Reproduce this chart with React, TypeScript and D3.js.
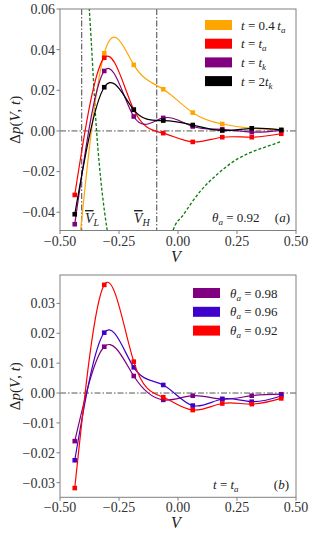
import React from 'react';
import * as d3 from 'd3';

// grid of V values shared by all series
const vGrid = [-0.4375, -0.3125, -0.1875, -0.0625, 0.0625, 0.1875, 0.3125, 0.4375];

// panel (a): theta_a = 0.92
const pOrange = [-0.078, 0.0382, 0.0325, 0.0205, 0.009, 0.0034, 0.0013, 0.0005];
const pRed = [-0.0315, 0.036, 0.0105, -0.0011, -0.0054, -0.0031, -0.0031, -0.0014];
const pPurple = [-0.0459, 0.0295, 0.0071, 0.0064, 0.0022, 0.0008, -0.0006, 0.0003];
const pBlack = [-0.041, 0.0215, 0.0104, 0.0051, 0.0029, 0.0002, 0.0013, 0.0005];

// green dashed reference curve, two branches
const greenLeft: [number, number][] = [[-0.392, 0.085], [-0.376, 0.06], [-0.345, 0], [-0.3, -0.049], [-0.29, -0.056]];
const greenRight: [number, number][] = [[-0.035, -0.056], [-0.02, -0.0487], [0.0225, -0.0413], [0.093, -0.0299], [0.164, -0.0216], [0.234, -0.0151], [0.305, -0.0107], [0.376, -0.0077], [0.436, -0.0053]];

const vL = -0.408;
const vH = -0.09;

// panel (b): t = t_a
const q98 = [-0.0161, 0.0155, 0.0057, -0.0023, -0.0009, -0.002, -0.0009, -0.0004];
const q96 = [-0.0225, 0.0202, 0.0086, 0.0027, -0.0042, -0.002, -0.0029, -0.001];
const q92 = [-0.0318, 0.0362, 0.0105, -0.0014, -0.0057, -0.0035, -0.0037, -0.0018];

const xTicks = [-0.5, -0.25, 0, 0.25, 0.5];
const yTicksA = [-0.04, -0.02, 0, 0.02, 0.04, 0.06];
const yTicksB = [-0.03, -0.02, -0.01, 0, 0.01, 0.02, 0.03];

const topSeries = [
  { key: 'o', vals: pOrange, color: '#ffa500', pre: '0.4', sub: 'a' },
  { key: 'r', vals: pRed, color: '#ff0000', pre: '', sub: 'a' },
  { key: 'p', vals: pPurple, color: '#800080', pre: '', sub: 'k' },
  { key: 'k', vals: pBlack, color: '#000000', pre: '2', sub: 'k' },
];
const botSeries = [
  { key: 'a', vals: q98, color: '#800080', label: '0.98' },
  { key: 'b', vals: q96, color: '#4000cc', label: '0.96' },
  { key: 'c', vals: q92, color: '#ff0000', label: '0.92' },
];

const FONT = '"Liberation Serif", "DejaVu Serif", serif';
const fmt = (v: number) => d3.format('.2f')(v).replace('-', '\u2212');

const L = 60, R = 296;
const x = d3.scaleLinear().domain([-0.5, 0.5]).range([L, R]);

function Frame({ y, ticks, id }: { y: d3.ScaleLinear<number, number>; ticks: number[]; id: string }) {
  const [b, t] = y.range();
  return (
    <g style={{ fontFamily: FONT }}>
      <rect x={L} y={t} width={R - L} height={b - t} fill="none" stroke="#808080" strokeWidth={1} />
      {ticks.map(v => (
        <g key={id + 'y' + v}>
          <line x1={L - 3.5} x2={L} y1={y(v)} y2={y(v)} stroke="#808080" />
          <text x={L - 5} y={y(v)} dy="0.35em" textAnchor="end" fontSize={14} fill="#333">{fmt(v)}</text>
        </g>
      ))}
      {xTicks.map(v => (
        <g key={id + 'x' + v}>
          <line x1={x(v)} x2={x(v)} y1={b} y2={b + 3.5} stroke="#808080" />
          <text x={x(v)} y={b + 15} textAnchor="middle" fontSize={14} fill="#333">{fmt(v)}</text>
        </g>
      ))}
      <text x={176} y={b + 31} textAnchor="middle" fontSize={16} fontStyle="italic" fill="#222">V</text>
      <text transform={`translate(20,${(b + t) / 2}) rotate(-90)`} textAnchor="middle" fontSize={15} fill="#222">
        Δ<tspan fontStyle="italic">p</tspan>(<tspan fontStyle="italic">V</tspan>, <tspan fontStyle="italic">t</tspan>)
      </text>
    </g>
  );
}

function Series({ y, vals, color, clip }: { y: d3.ScaleLinear<number, number>; vals: number[]; color: string; clip: string }) {
  const pts: [number, number][] = vGrid.map((v, i) => [x(v), y(vals[i])]);
  const line = d3.line().curve(d3.curveNatural);
  return (
    <g clipPath={`url(#${clip})`}>
      <path d={line(pts) || ''} fill="none" stroke={color} strokeWidth={1.2} />
      {pts.map((p, i) => (
        <rect key={i} x={p[0] - 2.3} y={p[1] - 2.3} width={4.6} height={4.6} fill={color} />
      ))}
    </g>
  );
}

export default function App() {
  const yA = d3.scaleLinear().domain([-0.049, 0.06]).range([230.5, 9]);
  const yB = d3.scaleLinear().domain([-0.0349, 0.0395]).range([497.3, 275]);
  const dashDot = '6,2,1.5,2';
  const gLine = d3.line().curve(d3.curveMonotoneX).x(d => x(d[0])).y(d => yA(d[1]));

  return (
    <svg width={312} height={533} style={{ position: 'absolute', left: 0, top: 0, background: '#fff', fontFamily: FONT }}>
      <defs>
        <clipPath id="clipA"><rect x={L} y={9} width={R - L} height={221.5} /></clipPath>
        <clipPath id="clipB"><rect x={L} y={275} width={R - L} height={222.3} /></clipPath>
      </defs>

      {/* panel (a) */}
      <g clipPath="url(#clipA)">
        <line x1={L} x2={R} y1={yA(0)} y2={yA(0)} stroke="#555" strokeWidth={1} strokeDasharray={dashDot} />
        <line x1={x(vL)} x2={x(vL)} y1={9} y2={230.5} stroke="#444" strokeWidth={1} strokeDasharray={dashDot} />
        <line x1={x(vH)} x2={x(vH)} y1={9} y2={230.5} stroke="#444" strokeWidth={1} strokeDasharray={dashDot} />
        <path d={gLine(greenLeft) || ''} fill="none" stroke="#0a7a0a" strokeWidth={1.3} strokeDasharray="3,2" />
        <path d={gLine(greenRight) || ''} fill="none" stroke="#0a7a0a" strokeWidth={1.3} strokeDasharray="3,2" />
      </g>
      {topSeries.map(s => <Series key={s.key} y={yA} vals={s.vals} color={s.color} clip="clipA" />)}
      <Frame y={yA} ticks={yTicksA} id="a" />
      {topSeries.map((s, i) => (
        <g key={'la' + s.key} transform={`translate(0,${25 + i * 18.7})`}>
          <rect x={205} y={-5} width={27} height={10} fill={s.color} />
          <text x={241} y={0} dy="0.35em" fontSize={13} fill="#222">
            <tspan fontStyle="italic">t</tspan> = {s.pre}{s.pre === '0.4' ? '\u2009' : ''}<tspan fontStyle="italic">t</tspan>
            <tspan fontStyle="italic" fontSize={9} dy={3}>{s.sub}</tspan>
          </text>
        </g>
      ))}
      <text x={85} y={223} fontSize={14} fill="#222">
        <tspan fontStyle="italic" textDecoration="overline">V</tspan><tspan fontStyle="italic" fontSize={10} dy={3}>L</tspan>
      </text>
      <text x={134} y={223} fontSize={14} fill="#222">
        <tspan fontStyle="italic" textDecoration="overline">V</tspan><tspan fontStyle="italic" fontSize={10} dy={3}>H</tspan>
      </text>
      <text x={212} y={222} fontSize={13} fill="#222">
        <tspan fontStyle="italic">θ</tspan><tspan fontStyle="italic" fontSize={9} dy={3}>a</tspan><tspan dy={-3}> = 0.92</tspan>
      </text>
      <text x={290} y={222} textAnchor="end" fontSize={13} fill="#222">(<tspan fontStyle="italic">a</tspan>)</text>

      {/* panel (b) */}
      <g clipPath="url(#clipB)">
        <line x1={L} x2={R} y1={yB(0)} y2={yB(0)} stroke="#555" strokeWidth={1} strokeDasharray={dashDot} />
      </g>
      {botSeries.map(s => <Series key={s.key} y={yB} vals={s.vals} color={s.color} clip="clipB" />)}
      <Frame y={yB} ticks={yTicksB} id="b" />
      {botSeries.map((s, i) => (
        <g key={'lb' + s.key} transform={`translate(0,${293 + i * 18.8})`}>
          <rect x={193} y={-5} width={27} height={10} fill={s.color} />
          <text x={230} y={0} dy="0.35em" fontSize={13} fill="#222">
            <tspan fontStyle="italic">θ</tspan><tspan fontStyle="italic" fontSize={9} dy={3}>a</tspan><tspan dy={-3}> = {s.label}</tspan>
          </text>
        </g>
      ))}
      <text x={213} y={489} fontSize={13} fill="#222">
        <tspan fontStyle="italic">t</tspan> = <tspan fontStyle="italic">t</tspan><tspan fontStyle="italic" fontSize={9} dy={3}>a</tspan>
      </text>
      <text x={289} y={489} textAnchor="end" fontSize={13} fill="#222">(<tspan fontStyle="italic">b</tspan>)</text>
    </svg>
  );
}
